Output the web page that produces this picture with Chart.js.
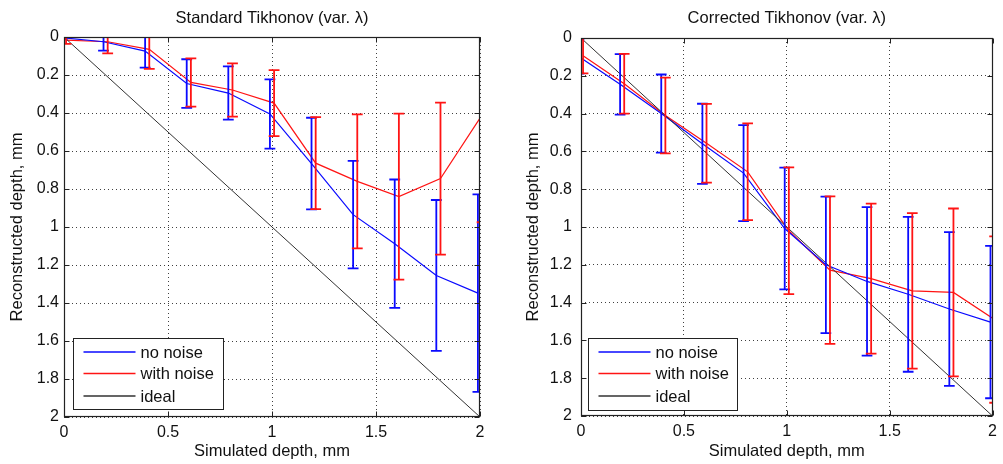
<!DOCTYPE html>
<html><head><meta charset="utf-8">
<script src="https://cdn.jsdelivr.net/npm/chart.js@4.4.0/dist/chart.umd.min.js"></script>
<style>
html,body{margin:0;padding:0;background:#fff;}
#wrap{position:relative;width:1003px;height:464px;overflow:hidden;background:#fff;}
canvas{position:absolute;top:0;}
#c1{left:0}
#c2{left:500px}
</style></head><body>
<div id="wrap"><canvas id="c1" width="500" height="464"></canvas><canvas id="c2" width="503" height="464"></canvas></div>
<script>
// ---- data ----
const depths = [0, 0.2, 0.4, 0.6, 0.8, 1.0, 1.2, 1.4, 1.6, 1.8, 2.0];
const idealX = [0, 2];
const idealY = [0, 2];

const stdNoNoise      = [0.003, 0.025, 0.074, 0.245, 0.295, 0.405, 0.666, 0.935, 1.088, 1.255, 1.348];
const stdNoNoiseErr   = [0.010, 0.047, 0.087, 0.128, 0.140, 0.182, 0.241, 0.283, 0.338, 0.397, 0.520];
const stdWithNoise    = [0.016, 0.025, 0.065, 0.239, 0.279, 0.348, 0.664, 0.760, 0.840, 0.745, 0.410];
const stdWithNoiseErr = [0.020, 0.061, 0.103, 0.127, 0.140, 0.174, 0.242, 0.353, 0.437, 0.400, 0.565];

const corNoNoise      = [0.099, 0.245, 0.400, 0.560, 0.715, 1.008, 1.200, 1.288, 1.356, 1.434, 1.503];
const corNoNoiseErr   = [0.090, 0.160, 0.207, 0.212, 0.254, 0.322, 0.361, 0.393, 0.410, 0.407, 0.403];
const corWithNoise    = [0.094, 0.242, 0.410, 0.557, 0.708, 1.020, 1.228, 1.273, 1.338, 1.346, 1.490];
const corWithNoiseErr = [0.093, 0.158, 0.200, 0.208, 0.256, 0.335, 0.390, 0.397, 0.411, 0.444, 0.440];

const xTicks = [0, 0.5, 1, 1.5, 2];
const yTicks = [0, 0.2, 0.4, 0.6, 0.8, 1, 1.2, 1.4, 1.6, 1.8, 2];
const legendLabels = ['no noise', 'with noise', 'ideal'];

// ---- styling ----
const FONT = '"Liberation Sans", Arial, Helvetica, sans-serif';
const BLUE = 'rgb(10,10,255)';
const RED = 'rgb(255,20,20)';
const BLACK = 'rgb(50,50,50)';
const SHIFT_BLUE = -0.01, SHIFT_RED = 0.01, CAP = 0.026;

function pts(xs, vals, shift) { return xs.map((d, i) => ({ x: d + shift, y: vals[i] })); }

function makeChart(id, o) {
  const errPlugin = {
    id: 'errbars',
    afterDatasetsDraw(chart) {
      const { ctx, chartArea: a, scales: { x, y } } = chart;
      ctx.save();
      ctx.beginPath(); ctx.rect(a.left, a.top, a.right - a.left, a.bottom - a.top); ctx.clip();
      o.bars.forEach(b => {
        ctx.strokeStyle = b.color; ctx.lineWidth = 1.8;
        depths.forEach((d, i) => {
          const xc = x.getPixelForValue(d + b.shift);
          const xl = x.getPixelForValue(d + b.shift - CAP);
          const xr = x.getPixelForValue(d + b.shift + CAP);
          const y1 = y.getPixelForValue(b.vals[i] - b.errs[i]);
          const y2 = y.getPixelForValue(b.vals[i] + b.errs[i]);
          ctx.beginPath();
          ctx.moveTo(xc, y1); ctx.lineTo(xc, y2);
          ctx.moveTo(xl, y1); ctx.lineTo(xr, y1);
          ctx.moveTo(xl, y2); ctx.lineTo(xr, y2);
          ctx.stroke();
        });
      });
      ctx.restore();
    }
  };
  const framePlugin = {
    id: 'frame',
    afterDraw(chart) {
      const { ctx, chartArea: a, scales: { x, y } } = chart;
      ctx.save();
      ctx.strokeStyle = '#222'; ctx.lineWidth = 1;
      const L = Math.round(a.left) + 0.5, R = Math.round(a.right) - 0.5;
      const T = Math.round(a.top) + 0.5, B = Math.round(a.bottom) - 0.5;
      ctx.beginPath();
      xTicks.forEach(v => {
        const px = Math.round(x.getPixelForValue(v)) + 0.5;
        ctx.moveTo(px, B); ctx.lineTo(px, B - 5);
        ctx.moveTo(px, T); ctx.lineTo(px, T + 5);
      });
      yTicks.forEach(v => {
        const py = Math.round(y.getPixelForValue(v)) + 0.5;
        ctx.moveTo(L, py); ctx.lineTo(L + 5, py);
        ctx.moveTo(R, py); ctx.lineTo(R - 5, py);
      });
      ctx.stroke();
      ctx.lineWidth = 1.2;
      ctx.strokeRect(L, T, R - L, B - T);
      // legend
      const bx = Math.round(a.left + o.leg.dx) + 0.5, by = Math.round(a.bottom - o.leg.dy) + 0.5;
      const bw = o.leg.w, bh = o.leg.h;
      ctx.fillStyle = '#fff';
      ctx.fillRect(bx, by, bw, bh);
      ctx.lineWidth = 1;
      ctx.strokeStyle = '#222';
      ctx.strokeRect(bx, by, bw, bh);
      const cols = [BLUE, RED, BLACK];
      const rows = [13.5, 35, 57.5];
      ctx.font = '16.5px ' + FONT;
      ctx.textBaseline = 'middle';
      ctx.textAlign = 'left';
      legendLabels.forEach((lab, i) => {
        ctx.strokeStyle = cols[i]; ctx.lineWidth = 1.3;
        ctx.beginPath(); ctx.moveTo(bx + 10, by + rows[i]); ctx.lineTo(bx + 62, by + rows[i]); ctx.stroke();
        ctx.fillStyle = '#111';
        ctx.fillText(lab, bx + 67, by + rows[i] + 1);
      });
      ctx.restore();
    }
  };

  return new Chart(document.getElementById(id), {
    type: 'line',
    data: {
      datasets: [
        { label: 'ideal', data: pts(idealX, idealY, 0), borderColor: BLACK, borderWidth: 1, pointRadius: 0 },
        { label: 'no noise', data: pts(depths, o.blue, SHIFT_BLUE), borderColor: BLUE, borderWidth: 1.2, pointRadius: 0 },
        { label: 'with noise', data: pts(depths, o.red, SHIFT_RED), borderColor: RED, borderWidth: 1.2, pointRadius: 0 }
      ]
    },
    options: {
      responsive: false, animation: false, devicePixelRatio: 1,
      layout: { padding: { left: 0, right: o.padRight, top: 0, bottom: 0 } },
      plugins: {
        legend: { display: false }, tooltip: { enabled: false },
        title: { display: true, text: o.title, fullSize: false, color: '#111',
                 font: { family: FONT, size: 16.5, weight: 'normal' }, padding: { top: 9, bottom: o.titleBottom } }
      },
      scales: {
        x: {
          type: 'linear', min: 0, max: 2,
          afterBuildTicks: s => { s.ticks = xTicks.map(v => ({ value: v })); },
          afterFit: s => { s.height = o.xAxisH; },
          ticks: { padding: 6, color: '#111', font: { family: FONT, size: 16 }, maxRotation: 0,
                   callback: v => String(v) },
          grid: { drawTicks: false, color: 'rgba(0,0,0,0.75)', lineWidth: 1 },
          border: { display: false, dash: [1, 3] },
          title: { display: true, text: 'Simulated depth, mm', color: '#111',
                   font: { family: FONT, size: 16.5 }, padding: { top: 0, bottom: 2.5 } }
        },
        y: {
          type: 'linear', min: 0, max: 2, reverse: true,
          afterBuildTicks: s => { s.ticks = yTicks.map(v => ({ value: v })); },
          afterFit: s => { s.width = o.yAxisW; },
          ticks: { padding: o.yTickPad, color: '#111', font: { family: FONT, size: 16 },
                   callback: v => String(Math.round(v * 10) / 10) },
          grid: { drawTicks: false, color: 'rgba(0,0,0,0.75)', lineWidth: 1 },
          border: { display: false, dash: [1, 3] },
          title: { display: true, text: 'Reconstructed depth, mm', color: '#111',
                   font: { family: FONT, size: 16.5 }, padding: { top: o.yTitlePad, bottom: 0 } }
        }
      }
    },
    plugins: [errPlugin, framePlugin]
  });
}

makeChart('c1', {
  title: 'Standard Tikhonov (var. λ)',
  blue: stdNoNoise, red: stdWithNoise,
  bars: [
    { vals: stdNoNoise, errs: stdNoNoiseErr, shift: SHIFT_BLUE, color: BLUE },
    { vals: stdWithNoise, errs: stdWithNoiseErr, shift: SHIFT_RED, color: RED }
  ],
  padRight: 20, titleBottom: 8.2, xAxisH: 47, yAxisW: 64, yTickPad: 5, yTitlePad: 7.2,
  leg: { dx: 8.7, dy: 79, w: 150, h: 71 }
});
makeChart('c2', {
  title: 'Corrected Tikhonov (var. λ)',
  blue: corNoNoise, red: corWithNoise,
  bars: [
    { vals: corNoNoise, errs: corNoNoiseErr, shift: SHIFT_BLUE, color: BLUE },
    { vals: corWithNoise, errs: corWithNoiseErr, shift: SHIFT_RED, color: RED }
  ],
  padRight: 8, titleBottom: 9.2, xAxisH: 48, yAxisW: 81, yTickPad: 9, yTitlePad: 23.2,
  leg: { dx: 6.7, dy: 78, w: 149, h: 72 }
});
</script>
</body></html>
